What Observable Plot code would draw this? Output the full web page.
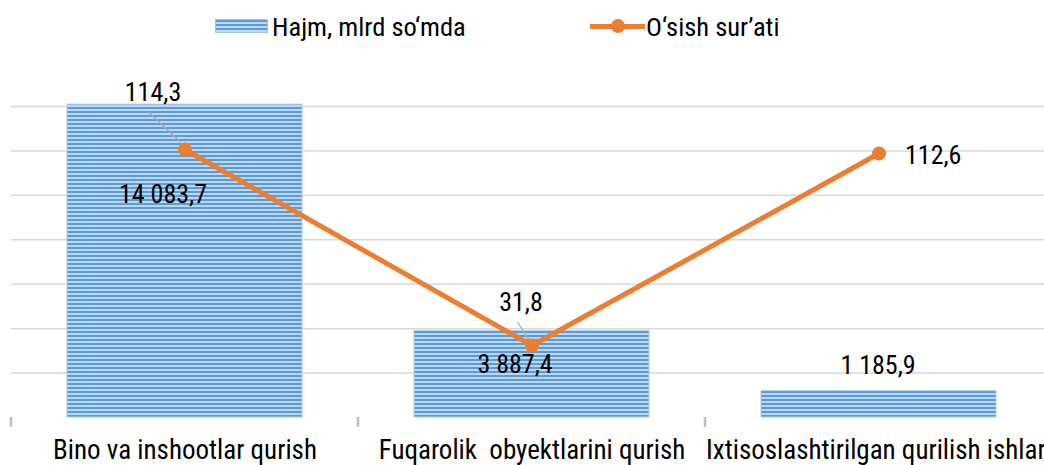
<!DOCTYPE html>
<html><head><meta charset="utf-8">
<script src="https://cdn.jsdelivr.net/npm/d3@7"></script>
<script src="https://cdn.jsdelivr.net/npm/@observablehq/plot@0.6"></script>
<style>
body{margin:0;background:#fff;overflow:hidden;font-family:"Roboto Condensed","Roboto",sans-serif;}
#legend{position:relative;height:55px;width:1044px;font-size:26.5px;color:#000;}
.item{position:absolute;top:11px;display:flex;align-items:center;height:30px;white-space:pre;}
.swatch{width:53px;height:14px;margin-right:4px;box-sizing:border-box;border:1px solid #9dc3e6;
  background:repeating-linear-gradient(to bottom,#5b9bd5 0 2px,#bdd7ee 2px 4px);}
.lineSw{position:relative;width:55px;height:20px;margin-right:1px;}
.lineSw::before{content:"";position:absolute;left:0;right:0;top:7.5px;height:5px;background:#ed7d31;}
.lineSw::after{content:"";position:absolute;left:21px;top:3px;width:14px;height:14px;border-radius:50%;background:#ed7d31;}
#chart svg text{white-space:pre;}
</style></head><body>
<div id="legend">
  <div class="item" style="left:215px"><span class="swatch"></span><span>Hajm, mlrd so‘mda</span></div>
  <div class="item" style="left:590px"><span class="lineSw"></span><span>O‘sish sur’ati</span></div>
</div>
<div id="chart"></div>
<script>
const categories = ["Bino va inshootlar qurish", "Fuqarolik  obyektlarini qurish", "Ixtisoslashtirilgan qurilish ishlari"];
const volume = [14083.7, 3887.4, 1185.9];
const growth = [114.3, 31.8, 112.6];
const volumeLabels = ["14 083,7", "3 887,4", "1 185,9"];
const growthLabels = ["114,3", "31,8", "112,6"];
const yTicks = [2000, 4000, 6000, 8000, 10000, 12000, 14000];

// secondary (hidden) axis of the growth rate mapped onto the volume axis
const rate = d3.scaleLinear().domain([1.5, 132.4]).range([0, 14000]);

const data = categories.map((c, i) => ({
  cat: c, volume: volume[i], growth: growth[i],
  vLabel: volumeLabels[i], gLabel: growthLabels[i], i
}));

const FONT = '"Roboto Condensed","Roboto",sans-serif';
const orange = "#ed7d31";
const LABEL_SIZE = 26;

// label offsets (pixels) relative to the anchor
const gOff = [{dx: -32, dy: -57, a: "middle"}, {dx: -11, dy: -43, a: "middle"}, {dx: 26, dy: 2, a: "start"}];
const vOff = [{dx: -22, dy: 90}, {dx: -17, dy: 34}, {dx: -1, dy: -25}];

const gTexts = gOff.map((o, i) => Plot.text(data.filter(d => d.i === i), {
  x: "cat", y: d => rate(d.growth), text: "gLabel", dx: o.dx, dy: o.dy,
  textAnchor: o.a, fontSize: LABEL_SIZE, fill: "#000"
}));
const vTexts = vOff.map((o, i) => Plot.text(data.filter(d => d.i === i), {
  x: "cat", y: "volume", text: "vLabel", dx: o.dx, dy: o.dy,
  textAnchor: "middle", fontSize: LABEL_SIZE, fill: "#000"
}));

const chart = Plot.plot({
  width: 1044,
  height: 410,
  marginTop: 51,
  marginBottom: 48,
  marginLeft: 11,
  marginRight: 0,
  style: {fontFamily: FONT, background: "#fff", overflow: "hidden"},
  x: {domain: categories, range: [10, 1052.5], paddingInner: 0.324, paddingOuter: 0.162, label: null},
  y: {domain: [0, 14000], axis: null},
  marks: [
    Plot.ruleY(yTicks, {stroke: "#d9d9d9", strokeWidth: 1.5}),
    Plot.barY(data, {x: "cat", y: "volume", fill: "url(#stripes)", stroke: "#a9cbeb", strokeWidth: 1}),
    Plot.ruleY([0], {x1: 10, stroke: "#bfbfbf", strokeWidth: 2.5}),
    Plot.axisX({tickSize: 0, tickPadding: 22, fontSize: 27, fill: "#000", label: null}),
    ...vTexts,
    Plot.line(data, {x: "cat", y: d => rate(d.growth), stroke: orange, strokeWidth: 5}),
    Plot.dot(data, {x: "cat", y: d => rate(d.growth), r: 7, fill: orange}),
    ...gTexts
  ]
});

const svg = d3.select(chart);
// stripe pattern for the bars
const pat = svg.insert("defs", ":first-child").append("pattern")
  .attr("id", "stripes").attr("patternUnits", "userSpaceOnUse")
  .attr("width", 8).attr("height", 4);
pat.append("rect").attr("width", 8).attr("height", 4).attr("fill", "#bdd7ee");
pat.append("rect").attr("width", 8).attr("height", 2).attr("fill", "#5b9bd5");

// category boundary ticks and leader lines, derived from the scales
const xs = chart.scale("x"), ys = chart.scale("y");
const y0 = ys.apply(0);
const half = (xs.step - xs.bandwidth) / 2;
const bounds = categories.map(c => xs.apply(c) - half);
const g = svg.append("g");
bounds.forEach(b => g.append("line").attr("x1", b).attr("x2", b).attr("y1", y0).attr("y2", y0 + 10)
  .attr("stroke", "#bfbfbf").attr("stroke-width", 2.5));
const leaders = [{i: 0, a: [-36, -37], b: [-4, -7]}, {i: 1, a: [-14, -23], b: [-1.5, -4]}];
leaders.forEach(l => {
  const px = xs.apply(categories[l.i]) + xs.bandwidth / 2;
  const py = ys.apply(rate(growth[l.i]));
  g.append("line").attr("x1", px + l.a[0]).attr("y1", py + l.a[1]).attr("x2", px + l.b[0]).attr("y2", py + l.b[1])
    .attr("stroke", "#a6a6a6").attr("stroke-width", 1.2);
});
// keep dots and growth labels above leader lines
svg.selectAll("g[aria-label='dot'], g[aria-label='line']").raise();
svg.selectAll("g[aria-label='text']").filter(function(){ return this.textContent.match(/^(114,3|31,8|112,6)$/); }).raise();

document.getElementById("chart").appendChild(chart);
</script>
</body></html>
